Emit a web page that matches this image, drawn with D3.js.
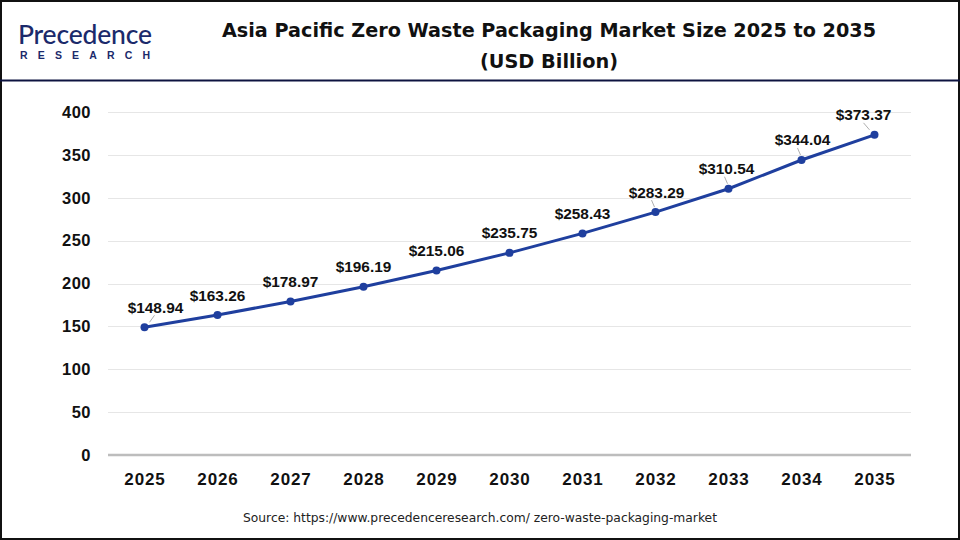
<!DOCTYPE html>
<html><head><meta charset="utf-8">
<script src="https://cdn.jsdelivr.net/npm/d3@7"></script>
<style>body{margin:0;background:#fff}svg{display:block}</style>
</head><body>
<svg id="c" width="960" height="540"></svg>
<script>
const years = ["2025","2026","2027","2028","2029","2030","2031","2032","2033","2034","2035"];
const values = [148.94,163.26,178.97,196.19,215.06,235.75,258.43,283.29,310.54,344.04,373.37];
const yTicks = [0,50,100,150,200,250,300,350,400];
const labelDx = [11,0,0,0,0,0,0,1,-2,1,-11];
const leader = [true,false,false,false,false,false,false,true,true,true,true];

const svg = d3.select("#c");
const W=960,H=540;
svg.append("rect").attr("x",1).attr("y",1).attr("width",W-2).attr("height",H-2).attr("fill","#fff").attr("stroke","#111").attr("stroke-width",2);
svg.append("line").attr("x1",0).attr("x2",W).attr("y1",80.5).attr("y2",80.5).attr("stroke","#0d1340").attr("stroke-width",2);

// logo
const logo = svg.append("g");
logo.append("text").attr("x",18).attr("y",44).attr("font-family","Lato, 'Open Sans', sans-serif").attr("font-size",26.5).attr("font-weight",500)
  .attr("fill","#1b2a6b").attr("letter-spacing",-0.2).text("Precedence");
logo.append("text").attr("x",20).attr("y",59).attr("font-family","'Liberation Sans', Arial, sans-serif").attr("font-size",10.5).attr("font-weight",700)
  .attr("fill","#1b2a6b").attr("textLength",130).attr("lengthAdjust","spacing").text("RESEARCH");

// title
svg.append("text").attr("x",549).attr("y",37).attr("text-anchor","middle").attr("font-family","'DejaVu Sans', Verdana, sans-serif")
  .attr("font-weight",700).attr("font-size",19.5).attr("fill","#111").attr("textLength",654).attr("lengthAdjust","spacingAndGlyphs")
  .text("Asia Pacific Zero Waste Packaging Market Size 2025 to 2035");
svg.append("text").attr("x",549).attr("y",68).attr("text-anchor","middle").attr("font-family","'DejaVu Sans', Verdana, sans-serif")
  .attr("font-weight",700).attr("font-size",19.5).attr("fill","#111").attr("textLength",138).attr("lengthAdjust","spacingAndGlyphs")
  .text("(USD Billion)");

const x = d3.scalePoint().domain(years).range([108,911]).padding(0.5);
const y = d3.scaleLinear().domain([0,400]).range([455,112]);

// gridlines
svg.append("g").selectAll("line").data(yTicks.filter(d=>d>0)).join("line")
  .attr("x1",108).attr("x2",911).attr("y1",d=>Math.round(y(d))+0.5).attr("y2",d=>Math.round(y(d))+0.5)
  .attr("stroke","#e6e6e6").attr("stroke-width",1);

// y axis
const ya = svg.append("g").attr("transform","translate(108,0)")
  .call(d3.axisLeft(y).tickValues(yTicks).tickSize(0).tickPadding(17));
ya.select(".domain").remove();
ya.selectAll("text").attr("font-family","'Liberation Sans', Arial, sans-serif").attr("font-weight",700).attr("font-size",16.5)
  .attr("letter-spacing",0.5).attr("fill","#111");

// x axis
const xa = svg.append("g").attr("transform","translate(0,455)")
  .call(d3.axisBottom(x).tickSize(0).tickPadding(18));
xa.select(".domain").attr("stroke","#bdbdbd").attr("stroke-width",2.5).attr("d","M108,0H911");
xa.selectAll("text").attr("font-family","'Liberation Sans', Arial, sans-serif").attr("font-weight",700).attr("font-size",17)
  .attr("letter-spacing",0.9).attr("fill","#111");

// line
const data = years.map((yr,i)=>({yr,v:values[i],i}));
svg.append("path").datum(data).attr("fill","none").attr("stroke","#1f3f9e").attr("stroke-width",3)
  .attr("d",d3.line().x(d=>x(d.yr)).y(d=>y(d.v)));

// leader lines
svg.append("g").selectAll("line").data(data.filter(d=>leader[d.i])).join("line")
  .attr("x1",d=>x(d.yr)+(labelDx[d.i]>5?5:labelDx[d.i]<-5?-5:-1)).attr("y1",d=>y(d.v)-5)
  .attr("x2",d=>x(d.yr)+(labelDx[d.i]>5?10:labelDx[d.i]<-5?-11:-4)).attr("y2",d=>y(d.v)-12)
  .attr("stroke","#999").attr("stroke-width",0.8);

svg.append("g").selectAll("circle").data(data).join("circle")
  .attr("cx",d=>x(d.yr)).attr("cy",d=>y(d.v)).attr("r",4).attr("fill","#1f3f9e");

svg.append("g").selectAll("text").data(data).join("text")
  .attr("x",d=>x(d.yr)+labelDx[d.i]).attr("y",d=>y(d.v)-14.5)
  .attr("text-anchor","middle").attr("font-family","'Liberation Sans', Arial, sans-serif").attr("font-weight",700)
  .attr("font-size",15.4).attr("fill","#111").text(d=>"$"+d.v.toFixed(2));

svg.append("text").attr("x",243).attr("y",522).attr("font-family","'DejaVu Sans', Verdana, sans-serif")
  .attr("font-size",12).attr("fill","#222").attr("textLength",474).attr("lengthAdjust","spacingAndGlyphs")
  .text("Source: https://www.precedenceresearch.com/ zero-waste-packaging-market");
</script>
</body></html>
